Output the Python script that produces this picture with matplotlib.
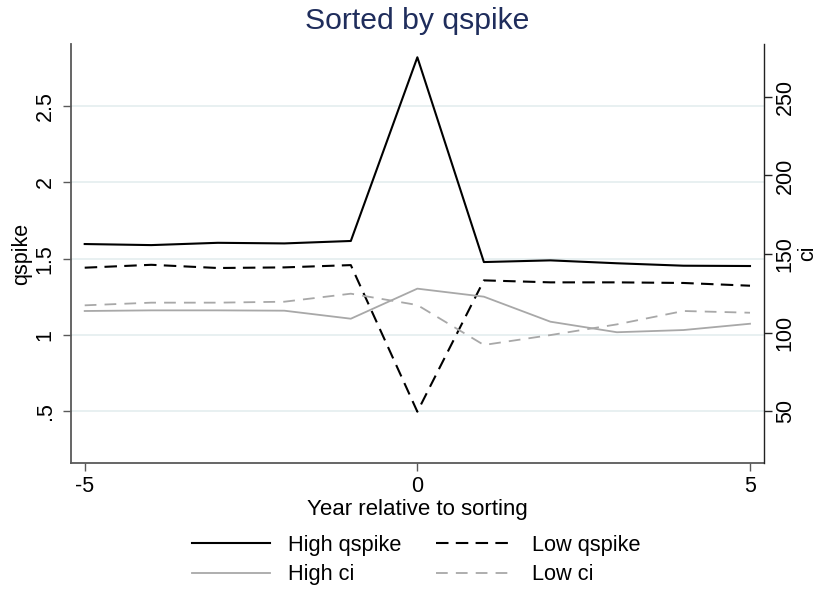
import matplotlib
matplotlib.use("Agg")
import matplotlib.pyplot as plt
from matplotlib.ticker import FixedLocator

plt.rcParams['font.family'] = ['Liberation Sans', 'DejaVu Sans']

years = [-5, -4, -3, -2, -1, 0, 1, 2, 3, 4, 5]
high_qspike = [1.596, 1.589, 1.604, 1.600, 1.616, 2.819, 1.478, 1.489, 1.470, 1.454, 1.452]
low_qspike = [1.441, 1.460, 1.439, 1.443, 1.458, 0.498, 1.358, 1.345, 1.345, 1.341, 1.323]
high_ci = [113.8, 114.2, 114.2, 114.0, 108.9, 128.0, 122.9, 107.0, 100.3, 101.7, 105.7]
low_ci = [117.4, 119.1, 119.1, 119.7, 124.8, 117.6, 92.2, 98.5, 105.3, 113.8, 112.7]

left_ticks = [0.5, 1, 1.5, 2, 2.5]
left_labels = ['.5', '1', '1.5', '2', '2.5']
right_ticks = [50, 100, 150, 200, 250]
x_ticks = [-5, 0, 5]

W, H = 818, 591
fig = plt.figure(figsize=(W / 100, H / 100), dpi=100)
L, R, T, B = 71, 764.3, 44, 463.3
ax = fig.add_axes([L / W, 1 - B / H, (R - L) / W, (B - T) / H])
ax2 = ax.twinx()

black = '#000000'
gray = '#a8a8a8'
ax.plot(years, high_qspike, color=black, lw=1.5, label='High qspike', zorder=3)
ax.plot(years, low_qspike, color=black, lw=1.5, dashes=(6, 3.5), label='Low qspike', zorder=3)
ax2.plot(years, high_ci, color=gray, lw=1.3, label='High ci')
ax2.plot(years, low_ci, color=gray, lw=1.3, dashes=(6.5, 4.5), label='Low ci')

ax.set_xlim(-5.206, 5.215)
ax.set_ylim(0.160, 2.906)
ax2.set_ylim(17.0, 283.5)

ax.yaxis.set_major_locator(FixedLocator(left_ticks))
ax.set_yticklabels(left_labels)
ax2.yaxis.set_major_locator(FixedLocator(right_ticks))
ax2.set_yticklabels([str(t) for t in right_ticks])
ax.set_xticks(x_ticks)
ax.set_xticklabels([str(t) for t in x_ticks])

for yv in left_ticks:
    ax.axhline(yv, color='#e8f0f1', lw=1.4, zorder=0)

axcol = '#595959'
for s in ['top', 'right']:
    ax.spines[s].set_visible(False)
for s in ['top', 'left', 'bottom']:
    ax2.spines[s].set_visible(False)
ax.spines['left'].set_color(axcol)
ax.spines['bottom'].set_color(axcol)
ax.spines['left'].set_linewidth(1.3)
ax.spines['bottom'].set_linewidth(1.3)
ax2.spines['right'].set_color('#222222')
ax2.spines['right'].set_linewidth(1.0)

fs = 15.5
ax.tick_params(axis='y', direction='out', length=6, width=1.0, color=axcol, labelsize=fs, pad=5)
ax.tick_params(axis='x', direction='out', length=6, width=1.0, color=axcol, labelsize=fs, pad=3)
ax2.tick_params(axis='y', direction='out', length=6, width=1.0, color='#222222', labelsize=fs, pad=1.5)
for lab in ax.get_yticklabels():
    lab.set_rotation(90)
    lab.set_va('center')
for lab in ax2.get_yticklabels():
    lab.set_rotation(90)
    lab.set_va('center')

ax.set_ylabel('qspike', fontsize=fs)
ax2.set_ylabel('ci', fontsize=fs)
ax.set_xlabel('Year relative to sorting', fontsize=16)
ax.yaxis.set_label_coords(-0.056, 0.5)
ax2.yaxis.set_label_coords(1.047, 0.5)
ax.xaxis.set_label_coords(0.5, -0.085)

fig.suptitle('Sorted by qspike', x=(L + R) / 2 / W, y=1 - 7 / H, va='top',
             fontsize=21.7, color='#1f2d5c')

h1, l1 = ax.get_legend_handles_labels()
h2, l2 = ax2.get_legend_handles_labels()
handles = [h1[0], h2[0], h1[1], h2[1]]
labels = [l1[0], l2[0], l1[1], l2[1]]
fig.legend(handles, labels, loc='center', bbox_to_anchor=(416 / W, 1 - 560 / H),
           ncol=2, frameon=False, fontsize=15.7, handlelength=3.6, handletextpad=0.8,
           columnspacing=1.6, labelspacing=0.4)

fig.savefig('out.png', dpi=100)
